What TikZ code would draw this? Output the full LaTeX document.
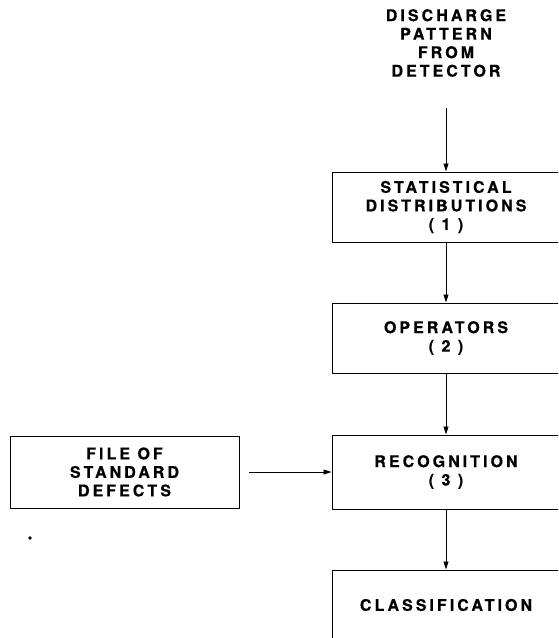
\documentclass[tikz,border=0pt]{standalone}
\usepackage{fontspec}
\setmainfont{TeX Gyre Heros}
\newfontfamily\chartfont[LetterSpace=19,FakeBold=0.6]{TeX Gyre Heros}
\usepackage{tikz}
\usetikzlibrary{arrows.meta}
\usetikzlibrary{positioning}

\begin{document}
\begin{tikzpicture}[x=1pt,y=-1pt,>={Triangle[length=8pt,width=5pt]},line join=round,
  every node/.style={font=\chartfont\bfseries\fontsize{16}{18.5}\selectfont,align=center},
  stage/.style={draw,line width=0.9pt,minimum width=228pt,minimum height=70pt,inner sep=0pt},
  flow/.style={->,line width=0.8pt}]
\clip (0,0) rectangle (558,638);
% input and processing chain
\node (src) at (446,43) {DISCHARGE\\PATTERN\\FROM\\DETECTOR};
\node[stage] (stat) at (446,207) {STATISTICAL\\DISTRIBUTIONS\\( 1 )};
\node[stage] (oper) at (446,338) {OPERATORS\\( 2 )};
\node[stage,minimum height=74pt] (recog) at (446,472) {RECOGNITION\\( 3 )};
\node[stage] (cls) at (446,605) {CLASSIFICATION};
% reference file
\node[stage,minimum width=229pt,minimum height=72pt] (file) at (124.5,472) {FILE OF\\STANDARD\\DEFECTS};
\node[circle,fill,inner sep=1.3pt] (mark) at (30,538) {};
% connectors
\draw[flow,shorten <=28pt] (src) -- (stat);
\draw[flow] (stat) -- (oper);
\draw[flow] (oper) -- (recog);
\draw[flow] (recog) -- (cls);
\draw[flow,shorten <=10pt] (file) -- (recog);
\end{tikzpicture}
\end{document}
